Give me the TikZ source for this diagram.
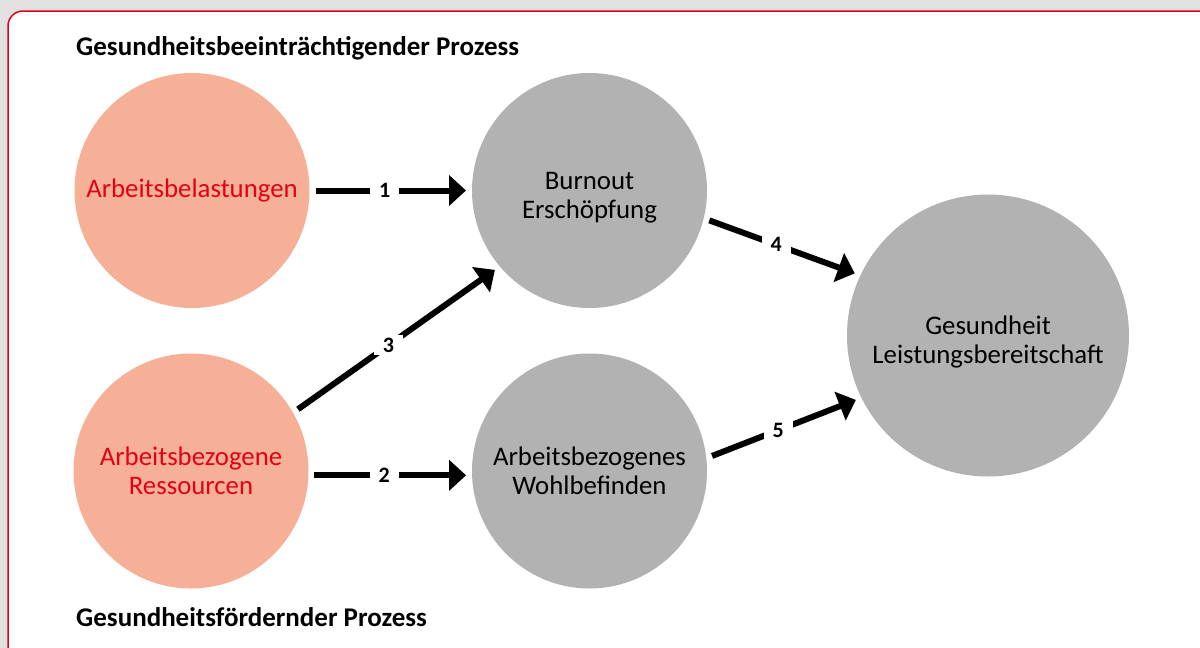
\documentclass[tikz,border=0pt]{standalone}
\usepackage{fontspec}
\setmainfont{Carlito}
\usepackage{tikz}
\usetikzlibrary{arrows.meta}

\definecolor{bggray}{HTML}{E1E1E1}
\definecolor{framered}{HTML}{E2001A}
\definecolor{salmon}{HTML}{F5B097}
\definecolor{circgray}{HTML}{B2B2B2}

% extra room above the first line, pushes the text block down a little
\newcommand{\topgap}{\rule{0pt}{31pt}}

\tikzset{
  factor/.style={circle,fill=salmon,text=framered,minimum size=235pt,inner sep=0pt,outer sep=6pt,
    align=center,font=\fontsize{26.8}{29}\selectfont},
  outcome/.style={factor,fill=circgray,text=black},
  arr/.style={line width=6pt,-{Triangle[length=17pt,width=30pt]}},
  lbl/.style={fill=white,inner xsep=9pt,inner ysep=3pt,pos=.46,font=\bfseries\fontsize{22}{22}\selectfont},
  heading/.style={anchor=base west,inner sep=0pt,font=\bfseries\fontsize{27}{27}\selectfont}
}

\begin{document}
\begin{tikzpicture}[x=1pt,y=-1pt]
  \clip (0,0) rectangle (1200,648);
  \fill[bggray] (0,0) rectangle (1200,648);
  \draw[framered,line width=1.5pt,fill=white,rounded corners=15pt] (8,11) rectangle (1230,680);

  \node[heading] (top) at (76,55) {Gesundheitsbeeinträchtigender Prozess};
  \node[heading] (bottom) at (76,626) {Gesundheitsfördernder Prozess};

  \node[factor] (bel) at (192,190.5) {Arbeitsbelastungen};
  \node[factor] (res) at (191,471) {Arbeitsbezogene\\Ressourcen};
  \node[outcome] (burn) at (589.5,190.5) {\topgap Burnout\\Erschöpfung};
  \node[outcome] (wohl) at (589.5,471) {Arbeitsbezogenes\\Wohlbefinden};
  \node[outcome,minimum size=282pt] (ges) at (988,335.5) {\topgap Gesundheit\\Leistungsbereitschaft};

  \path[arr]
    (bel.east) edge node [lbl] {1} (burn.west)
    (res.-2) edge node [lbl] {2} (wohl.182)
    (res.30) edge node [lbl] {3} (burn.220)
    (burn.-14) edge node [lbl] {4} (ges.155)
    (wohl.7) edge node [lbl] {5} (ges.206)
    ;
\end{tikzpicture}
\end{document}
